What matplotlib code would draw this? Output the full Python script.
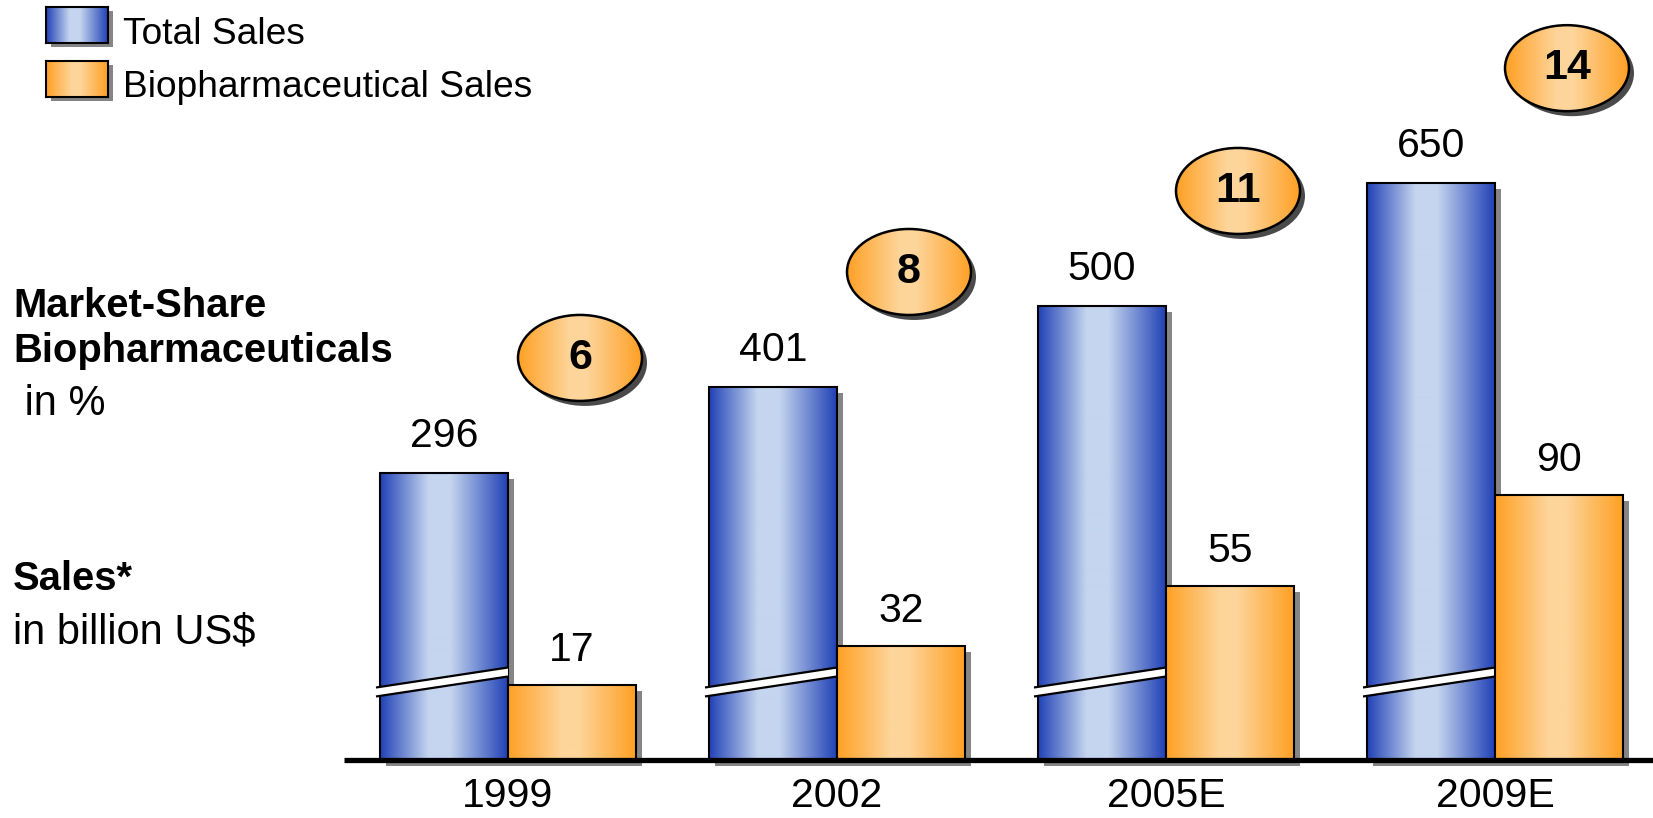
import numpy as np
import matplotlib
matplotlib.use('Agg')
import matplotlib.pyplot as plt
from matplotlib import transforms
from matplotlib.colors import LinearSegmentedColormap
from matplotlib.patches import Rectangle, Ellipse, Polygon

plt.rcParams['font.family'] = ['Liberation Sans', 'DejaVu Sans']

# data
years = ['1999', '2002', '2005E', '2009E']
total_sales = [296, 401, 500, 650]        # billion US$
bio_sales = [17, 32, 55, 90]              # billion US$
bio_share = [6, 8, 11, 14]                # %

# layout (pixels)
W, H = 1653, 818
BASE = 760            # baseline, from top
GROUP_X0 = 508        # centre of first group
GROUP_DX = 329
BAR_W = 128
# the two series use their own (broken) scales: px = off + k * value
BLUE_OFF, BLUE_K = 44.8, 0.8185
ORNG_OFF, ORNG_K = 30.6, 2.6

blue_cmap = LinearSegmentedColormap.from_list(
    'b', [(0, '#2142b6'), (0.38, '#c5d5ef'), (0.55, '#c5d5ef'), (1, '#2142b6')])
orng_cmap = LinearSegmentedColormap.from_list(
    'o', [(0, '#ffa024'), (0.42, '#fdd59b'), (0.55, '#fdd59b'), (1, '#ffa024')])
grad = np.linspace(0, 1, 256).reshape(1, -1)

fig = plt.figure(figsize=(W / 100, H / 100), dpi=100)
ax_b = fig.add_axes([0, (H - BASE) / H, 1, BASE / H])
ax_b.patch.set_visible(False)
ax_o = ax_b.twinx()

xlim = (-GROUP_X0 / GROUP_DX, (W - GROUP_X0) / GROUP_DX)
px_x = 1 / GROUP_DX
w = BAR_W * px_x
x = np.arange(len(years))

yb = (-BLUE_OFF / BLUE_K, (BASE - BLUE_OFF) / BLUE_K)
yo = (-ORNG_OFF / ORNG_K, (BASE - ORNG_OFF) / ORNG_K)


def gradient_bars(ax, xs, vals, y0, cmap):
    bars = ax.bar(xs, np.array(vals) - y0, w, bottom=y0, facecolor='none',
                  edgecolor='black', linewidth=1.5, zorder=3)
    sh_tr = transforms.offset_copy(ax.transData, fig=fig, x=6, y=-6, units='dots')
    for p in bars:
        bx, by = p.get_x(), p.get_y()
        bw, bh = p.get_width(), p.get_height()
        ax.add_patch(Rectangle((bx, by), bw, bh, transform=sh_tr, fc='#858585',
                               ec='none', zorder=1, clip_on=False))
        im = ax.imshow(grad, extent=[bx, bx + bw, by, by + bh], aspect='auto',
                       cmap=cmap, zorder=2, interpolation='bilinear')
        im.set_clip_path(p)
    return bars


blue_bars = gradient_bars(ax_b, x - w / 2, total_sales, yb[0], blue_cmap)
orng_bars = gradient_bars(ax_o, x + w / 2, bio_sales, yo[0], orng_cmap)

# axis break marks on the total sales bars
brk_tr = transforms.blended_transform_factory(ax_b.transData, ax_b.transAxes)
for p in blue_bars:
    x0 = p.get_x() - 4 * px_x
    x1 = p.get_x() + p.get_width()
    yl, yr, t = 68 / BASE, 88 / BASE, 4.5 / BASE
    ax_b.add_patch(Polygon([(x0, yl - t), (x1, yr - t), (x1, yr + t), (x0, yl + t)],
                           closed=True, fc='white', ec='none', transform=brk_tr, zorder=4))
    for s in (-t, t):
        ax_b.plot([x0, x1], [yl + s, yr + s], color='black', lw=1.6,
                  transform=brk_tr, zorder=5, solid_capstyle='butt')

# value labels
for p, v in zip(blue_bars, total_sales):
    ax_b.annotate(str(v), (p.get_x() + p.get_width() / 2, v), xytext=(0, 26),
                  textcoords='offset pixels', ha='center', va='baseline', fontsize=29.5)
for p, v in zip(orng_bars, bio_sales):
    ax_o.annotate(str(v), (p.get_x() + p.get_width() / 2, v), xytext=(0, 24),
                  textcoords='offset pixels', ha='center', va='baseline', fontsize=29.5)

# market share badges
badge_gap = 115 / BLUE_K
ew, eh = 124 * px_x, 86 / BLUE_K
sh_tr = transforms.offset_copy(ax_b.transData, fig=fig, x=5, y=-5, units='dots')
for xi, tot, share in zip(x, total_sales, bio_share):
    cx = xi + w / 2 + 8 * px_x
    cy = tot + badge_gap
    ax_b.add_patch(Ellipse((cx, cy), ew, eh, transform=sh_tr, fc='#4a4a4a', ec='none', zorder=6))
    e = Ellipse((cx, cy), ew, eh, fc='none', ec='black', lw=1.8, zorder=8)
    ax_b.add_patch(e)
    im = ax_b.imshow(grad, extent=[cx - ew / 2, cx + ew / 2, cy - eh / 2, cy + eh / 2],
                     aspect='auto', cmap=orng_cmap, zorder=7, interpolation='bilinear')
    im.set_clip_path(e)
    ax_b.text(cx, cy, str(share), ha='center', va='center', fontsize=31,
              fontweight='bold', zorder=9)

# baseline
ax_o.plot([-0.5, xlim[1]], [yo[0], yo[0]], color='black', lw=3.8, zorder=10,
          clip_on=False, solid_capstyle='butt')

for ax, yl in ((ax_b, yb), (ax_o, yo)):
    ax.set_xlim(xlim)
    ax.set_ylim(yl)
    for s in ax.spines.values():
        s.set_visible(False)
    ax.set_yticks([])
ax_b.set_xticks(x, years)
ax_b.tick_params(axis='x', length=0, pad=12, labelsize=29.5)
ax_o.tick_params(axis='x', length=0)


def fx(px):
    return px / W


def fy(py):
    return 1 - py / H


# left side captions
fig.text(fx(13), fy(317), 'Market-Share', fontsize=28.8, fontweight='bold', va='baseline')
fig.text(fx(13), fy(362), 'Biopharmaceuticals', fontsize=28.8, fontweight='bold', va='baseline')
fig.text(fx(13), fy(415), ' in %', fontsize=30, va='baseline')
fig.text(fx(13), fy(590), 'Sales*', fontsize=28.8, fontweight='bold', va='baseline')
fig.text(fx(13), fy(644), 'in billion US$', fontsize=30, va='baseline')

# legend
for (top, bot), cmap, label, base in (((7, 43), blue_cmap, 'Total Sales', 44),
                                      ((61, 97), orng_cmap, 'Biopharmaceutical Sales', 97)):
    fig.add_artist(Rectangle((fx(46 + 5), fy(bot + 4)), fx(62), (bot - top) / H,
                             fc='#858585', ec='none', zorder=-1))
    lax = fig.add_axes([fx(46), fy(bot), fx(62), (bot - top) / H], zorder=5)
    lax.imshow(grad, aspect='auto', cmap=cmap, interpolation='bilinear')
    lax.set_xticks([])
    lax.set_yticks([])
    for s in lax.spines.values():
        s.set_linewidth(1.5)
    fig.text(fx(123), fy(base), label, fontsize=26.7, va='baseline')

fig.savefig('out.png', dpi=100)
